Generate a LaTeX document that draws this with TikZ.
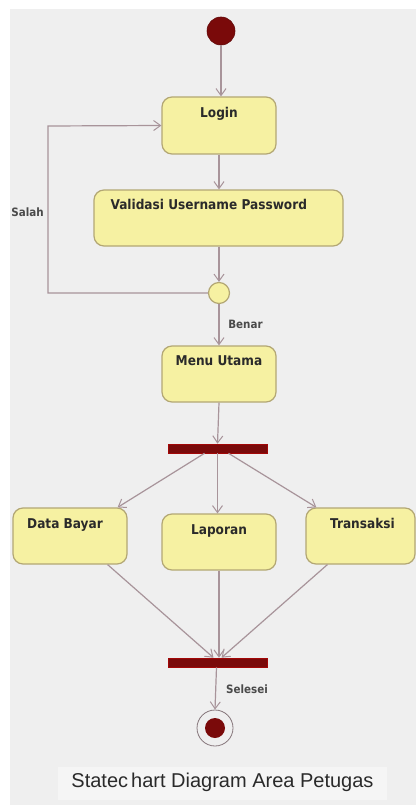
\documentclass[tikz,border=0pt]{standalone}
\usepackage{fontspec}
\setmainfont{DejaVu Sans Condensed}
\newfontfamily\titlefont{Liberation Sans}
\usetikzlibrary{arrows.meta,calc}
\definecolor{bgc}{HTML}{EFEFEF}
\definecolor{boxfill}{HTML}{F6F1A2}
\definecolor{boxline}{HTML}{B3A774}
\definecolor{linec}{HTML}{A8949A}
\definecolor{darkred}{HTML}{7A0A0A}
\definecolor{txt}{HTML}{2A2A2A}
\tikzset{
  state/.style={draw=boxline,line width=1.2pt,fill=boxfill,rounded corners=10pt,inner sep=0pt},
  lbl/.style={font=\bfseries\fontsize{13.5}{16}\selectfont,text=txt,inner sep=0pt},
  small/.style={font=\bfseries\fontsize{11.5}{14}\selectfont,text=txt!85!white,inner sep=0pt},
  conn/.style={draw=linec,line width=1.2pt,-{Straight Barb[length=7pt,width=10pt,line width=1pt]}},
  bar/.style={draw=darkred!70!red,line width=0.6pt,fill=darkred,inner sep=0pt,minimum width=99pt,minimum height=9pt},
}
\begin{document}
\begin{tikzpicture}[x=1pt,y=-1pt]
\useasboundingbox (0,0) rectangle (416,805);
\fill[white] (0,0) rectangle (416,805);
\fill[bgc] (10,9) rectangle (416,805);
\fill[white!35!bgc] (58,767) rectangle (387,800);

% initial
\node[circle,fill=darkred,draw=darkred!80!black,line width=0.6pt,minimum size=28pt,inner sep=0pt] (init) at (221,31) {};

% states
\node[state,minimum width=114pt,minimum height=57pt,
  label={[lbl,anchor=north,yshift=-11pt]north:Login}] (login) at (219,125.5) {};
\node[state,minimum width=249pt,minimum height=56pt] (valid) at (218.5,218) {};
\node[lbl,anchor=north west] (validt) at ($(valid.north west)+(17,10)$) {Validasi Username Password};
\node[circle,draw=boxline,line width=1.2pt,fill=boxfill,minimum size=21pt,inner sep=0pt] (dec) at (219,293) {};
\node[state,minimum width=114pt,minimum height=56pt,
  label={[lbl,anchor=north,yshift=-10pt]north:Menu Utama}] (menu) at (219,374) {};
\node[bar] (fork) at (217.5,448.5) {};
\node[state,minimum width=114pt,minimum height=56pt,
  label={[lbl,anchor=north,yshift=-11pt,xshift=-5pt]north:Data Bayar}] (data) at (70,536) {};
\node[state,minimum width=114pt,minimum height=56pt,
  label={[lbl,anchor=north,yshift=-11pt]north:Laporan}] (lap) at (219,542) {};
\node[state,minimum width=109pt,minimum height=56pt,
  label={[lbl,anchor=north,yshift=-11pt,xshift=2pt]north:Transaksi}] (trans) at (360.5,536) {};
\node[bar] (join) at (217.5,662.5) {};
\node[circle,draw=linec!80!black,line width=0.8pt,fill=bgc,minimum size=36pt,inner sep=0pt] (final) at (215,728) {};
\node[circle,fill=darkred,minimum size=20pt,inner sep=0pt] (finalin) at (final.center) {};

% labels
\node[small] (salah) at (27.5,212) {Salah};
\node[small] (benar) at (245.5,324) {Benar};
\node[small] (selesai) at (247,689) {Selesei};

% connectors
\draw[conn] (init) -- (init.south |- login.north);
\draw[conn] (login.south) -- (login.south |- valid.north);
\draw[conn] (valid.south -| dec.north) -- (dec.north);
\draw[conn] (dec.south) -- (menu.north);
\draw[conn] (dec.west) -- (48,293) -- (48,126) -- (login.west);
\draw[conn] (menu.south) -- (fork.north);
\draw[conn] ([xshift=-13pt]fork.south) -- ([xshift=-10pt]data.north east);
\draw[conn] (fork.south) -- (fork.south |- lap.north);
\draw[conn] ([xshift=11pt]fork.south) -- ([xshift=11pt]trans.north west);
\draw[conn] ([xshift=-20pt]data.south east) -- ([xshift=-4pt]join.north);
\draw[conn] (lap.south) -- (lap.south |- join.north);
\draw[conn] ([xshift=22pt]trans.south west) -- ([xshift=4pt]join.north);
\draw[conn] ([xshift=-1pt]join.south) -- (final.north);

% title
\node[font=\titlefont\fontsize{20}{22}\selectfont,text=txt,inner sep=0pt] (title) at (222.5,782) {Statec\kern0.15em hart Diagram Area Petugas};
\end{tikzpicture}
\end{document}
